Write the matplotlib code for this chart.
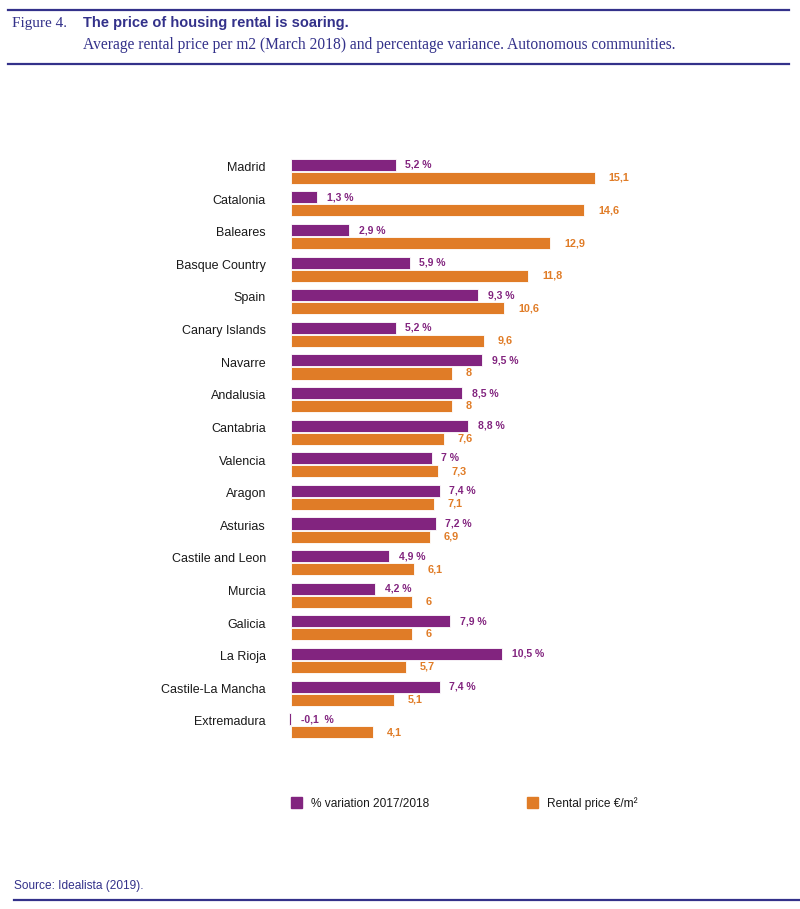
import matplotlib.pyplot as plt
from matplotlib.lines import Line2D
from matplotlib.patches import Rectangle

# Data
regions = ["Madrid", "Catalonia", "Baleares", "Basque Country", "Spain",
           "Canary Islands", "Navarre", "Andalusia", "Cantabria", "Valencia",
           "Aragon", "Asturias", "Castile and Leon", "Murcia", "Galicia",
           "La Rioja", "Castile-La Mancha", "Extremadura"]
variation = [5.2, 1.3, 2.9, 5.9, 9.3, 5.2, 9.5, 8.5, 8.8, 7.0, 7.4, 7.2,
             4.9, 4.2, 7.9, 10.5, 7.4, -0.1]
price = [15.1, 14.6, 12.9, 11.8, 10.6, 9.6, 8.0, 8.0, 7.6, 7.3, 7.1, 6.9,
         6.1, 6.0, 6.0, 5.7, 5.1, 4.1]
variation_labels = ["5,2 %", "1,3 %", "2,9 %", "5,9 %", "9,3 %", "5,2 %",
                    "9,5 %", "8,5 %", "8,8 %", "7 %", "7,4 %", "7,2 %",
                    "4,9 %", "4,2 %", "7,9 %", "10,5 %", "7,4 %", "-0,1  %"]
price_labels = ["15,1", "14,6", "12,9", "11,8", "10,6", "9,6", "8", "8",
                "7,6", "7,3", "7,1", "6,9", "6,1", "6", "6", "5,7", "5,1", "4,1"]

PURPLE = "#82247f"
ORANGE = "#e07c27"
NAVY = "#33318a"
SANS = ["Liberation Sans", "DejaVu Sans"]
SERIF = ["Liberation Serif", "DejaVu Serif"]

W, H = 800, 909
fig = plt.figure(figsize=(W / 100, H / 100), dpi=100)

# axes placed in pixel terms: x=0 at 291px, 20.1 px per unit
left_px, width_px = 291, 400
top_px, bottom_px = 155, 742
ax = fig.add_axes([left_px / W, 1 - bottom_px / H, width_px / W, (bottom_px - top_px) / H])
ax.set_xlim(0, width_px / 20.1)
ax.set_ylim(len(regions) - 0.5, -0.5)
ax.axis("off")

ys = list(range(len(regions)))
bh = 0.37
ax.barh([y - 0.2 for y in ys], variation, height=bh, color=PURPLE,
        edgecolor="white", linewidth=0.6, clip_on=False)
ax.barh([y + 0.2 for y in ys], price, height=bh, color=ORANGE,
        edgecolor="white", linewidth=0.6, clip_on=False)

for y, name, v, p, vl, pl in zip(ys, regions, variation, price, variation_labels, price_labels):
    ax.annotate(vl, (max(v, 0), y - 0.2), xytext=(7, 0), textcoords="offset points",
                va="center", ha="left", fontsize=7.5, fontweight="bold",
                color=PURPLE, family=SANS)
    ax.annotate(pl, (p, y + 0.2), xytext=(10, 0), textcoords="offset points",
                va="center", ha="left", fontsize=7.8, fontweight="bold",
                color=ORANGE, family=SANS)
    ax.annotate(name, (0, y - 0.1), xytext=(-18, 0), textcoords="offset points",
                va="center", ha="right", fontsize=9, color="#1a1a1a", family=SANS)

# header and footer
def px(x, y):
    return x / W, 1 - y / H

for yl in (10, 64):
    fig.add_artist(Line2D([8 / W, 789 / W], [1 - yl / H] * 2, color=NAVY, linewidth=1.6))
fig.add_artist(Line2D([14 / W, 800 / W], [1 - 900 / H] * 2, color=NAVY, linewidth=1.6))

fig.text(*px(12, 24), "Figure 4.", family=SERIF, fontsize=11, color=NAVY, va="center")
fig.text(*px(83, 23), "The price of housing rental is soaring.", family=SANS,
         fontsize=10.5, fontweight="bold", color=NAVY, va="center")
fig.text(*px(83, 45), "Average rental price per m2 (March 2018) and percentage variance. Autonomous communities.",
         family=SERIF, fontsize=11.2, color=NAVY, va="center")
fig.text(*px(14, 886), "Source: Idealista (2019).", family=SANS, fontsize=8.6,
         color=NAVY, va="center")

# legend
for x0, col, label in ((291, PURPLE, "% variation 2017/2018"), (527, ORANGE, "Rental price €/m²")):
    fig.add_artist(Rectangle(px(x0, 808), 11 / W, 11 / H, color=col, transform=fig.transFigure))
    fig.text(*px(x0 + 20, 804), label, family=SANS, fontsize=8.6, color="#1a1a1a", va="center")

fig.savefig("out.png", dpi=100)
